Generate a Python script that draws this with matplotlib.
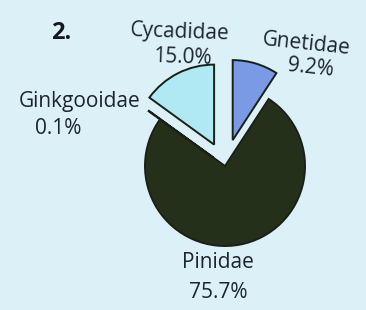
import matplotlib
matplotlib.use("Agg")
import matplotlib.pyplot as plt

categories = ["Gnetidae", "Pinidae", "Ginkgooidae", "Cycadidae"]
values = [9.2, 75.7, 0.1, 15.0]
pct_labels = ["9.2%", "75.7%", "0.1%", "15.0%"]
colors = ["#7b9ae6", "#25301a", "#dff2f6", "#b0e8f4"]
explode = [27, 0, 14, 24]

W, H = 366, 310
fig = plt.figure(figsize=(W / 100, H / 100), dpi=100)
bg = "#dcf0f8"
fig.patch.set_facecolor(bg)
ax = fig.add_axes([0, 0, 1, 1])
ax.set_facecolor(bg)

cx, cy = 225, H - 166
wedges, _ = ax.pie(values, colors=colors, explode=explode,
                   startangle=90, counterclock=False, radius=80, center=(cx, cy),
                   frame=True,
                   wedgeprops=dict(edgecolor="#1a2018", linewidth=1.4))
ax.set_xlim(0, W)
ax.set_ylim(0, H)
ax.set_aspect("equal")
ax.axis("off")

font = "Open Sans"
fs = 15
# label positions (pixel coords, top-left origin)
pos = {
    "Gnetidae": ((306, 44), (311, 68), -6),
    "Pinidae": ((218, 263), (218, 293), 0),
    "Ginkgooidae": ((80, 101), (58, 128), 0),
    "Cycadidae": ((180, 32), (182, 58), -2),
}
for cat, pct in zip(categories, pct_labels):
    (x1, y1), (x2, y2), rot = pos[cat]
    ax.text(x1, H - y1, cat, ha="center", va="center", fontsize=fs,
            family=font, color="#1c2430", rotation=rot)
    ax.text(x2, H - y2, pct, ha="center", va="center", fontsize=fs,
            family=font, color="#1c2430", rotation=rot)

ax.text(61, H - 33, "2.", ha="center", va="center", fontsize=17,
        family=font, fontweight="bold", color="#141820")

fig.savefig("out.png", dpi=100, facecolor=bg)
